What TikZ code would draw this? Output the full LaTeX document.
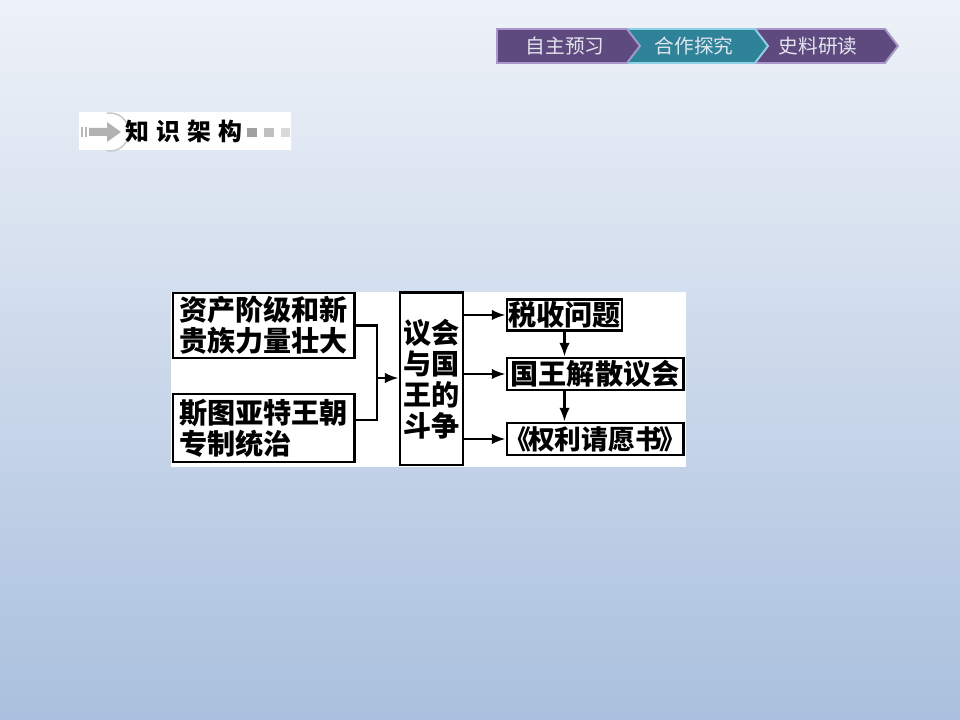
\documentclass[tikz,border=0pt]{standalone}
\usepackage{fontspec}
\setmainfont{Noto Sans CJK SC}
\usetikzlibrary{arrows.meta}
\definecolor{bgtop}{RGB}{238,242,248}
\definecolor{bgbot}{RGB}{170,192,222}
\definecolor{tabpurple}{RGB}{94,74,126}
\definecolor{tabpurpleedge}{RGB}{170,150,200}
\definecolor{tabteal}{RGB}{46,131,153}
\definecolor{tabtealedge}{RGB}{140,210,228}
\definecolor{tabtextcol}{RGB}{228,228,238}

\begin{document}
\begin{tikzpicture}[x=0.025cm,y=-0.025cm]
\tikzset{
  tablabel/.style={text=tabtextcol,font=\fontsize{14}{16}\selectfont,inner sep=0pt},
  tabshape/.style={line width=1.4pt,line join=miter},
  boxnode/.style={draw=black,line width=2.1pt,inner sep=0pt,font=\bfseries\fontsize{20}{22}\selectfont},
  link/.style={draw=black,line width=1.6pt},
  directed/.style={link,-{Latex[length=3.4mm,width=2.6mm]}}
}
\useasboundingbox (0,0) rectangle (960,720);
\shade[top color=bgtop,bottom color=bgbot] (0,0) rectangle (960,720);
\filldraw[tabshape,fill=tabpurple,draw=tabpurpleedge] (753,29) -- (885,29) -- (898,46) -- (885,63) -- (753,63) -- (766,46) -- cycle;
\filldraw[tabshape,fill=tabteal,draw=tabtealedge] (625,29) -- (755,29) -- (768,46) -- (755,63) -- (625,63) -- (638,46) -- cycle;
\filldraw[tabshape,fill=tabpurple,draw=tabpurpleedge] (497,29) -- (627,29) -- (640,46) -- (627,63) -- (497,63) -- cycle;
\node[tablabel] (t_preview) at (565,46) {自主预习};
\node[tablabel] (t_explore) at (694,46) {合作探究};
\node[tablabel] (t_sources) at (818,46) {史料研读};
\fill[white] (79,112) rectangle (291,150);
\draw[gray!45,line width=1pt] (110,132) ++(100:19) arc (100:-100:19);
\fill[gray!55] (81,127) rectangle (83,137);
\fill[gray!55] (85,127) rectangle (87,137);
\fill[gray!60] (89,128) -- (107,128) -- (107,122) -- (121,132) -- (107,142) -- (107,136) -- (89,136) -- cycle;
\node[anchor=west,inner sep=0pt,font=\bfseries\fontsize{17}{19}\selectfont] (h_title) at (125,131) {知\hspace{5pt}识\hspace{5pt}架\hspace{5pt}构};
\fill[gray!75] (247,128) rectangle (257,137);
\fill[gray!50] (264,128) rectangle (274,137);
\fill[gray!30] (281,128) rectangle (290,137);
\fill[white] (171,292) rectangle (686,467);
\node[boxnode,minimum width=4.525cm,minimum height=1.625cm,align=left] (n_rise) at (263.5,325.5) {资产阶级和新\\贵族力量壮大};
\node[boxnode,minimum width=4.525cm,minimum height=1.7cm,align=left] (n_rule) at (263.5,428) {斯图亚特王朝\\专制统治};
\node[boxnode,minimum width=1.575cm,minimum height=4.3cm,align=center] (n_struggle) at (431.5,379) {议会\\与国\\王的\\斗争};
\node[boxnode,minimum width=2.875cm,minimum height=0.78cm] (n_tax) at (564.5,315) {税收问题};
\node[boxnode,minimum width=4.4cm,minimum height=0.8cm] (n_dissolve) at (595,374) {国王解散议会};
\node[boxnode,minimum width=4.4cm,minimum height=0.8cm,font=\bfseries\fontsize{19}{22}\selectfont] (n_petition) at (595,439) {\kern-7pt《\kern-2pt权利请愿书\kern-2pt》\kern-7pt};
\coordinate (n_join) at (377,378);
\draw[link] (n_rise.east) -| (n_join);
\draw[link] ([yshift=5.7pt]n_rule.east) -| (n_join);
\draw[directed] (n_join) -- (n_struggle.west |- n_join);
\draw[directed] (n_struggle.east |- n_tax.west) -- (n_tax.west);
\draw[directed] (n_struggle.east |- n_dissolve.west) -- (n_dissolve.west);
\draw[directed] (n_struggle.east |- n_petition.west) -- (n_petition.west);
\draw[directed] (n_tax.south) -- (n_tax.south |- n_dissolve.north);
\draw[directed] (n_tax.south |- n_dissolve.south) -- (n_tax.south |- n_petition.north);
\end{tikzpicture}
\end{document}
